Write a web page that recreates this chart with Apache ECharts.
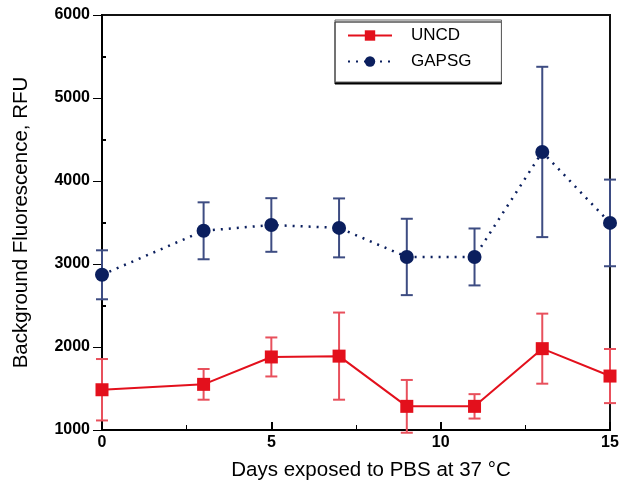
<!DOCTYPE html>
<html>
<head>
<meta charset="utf-8">
<script src="https://cdn.jsdelivr.net/npm/echarts@6/dist/echarts.min.js"></script>
<style>
  html, body { margin: 0; padding: 0; background: #fff; }
  #chart { width: 622px; height: 491px; }
</style>
</head>
<body>
<div id="chart"></div>
<script>
// Days of exposure to PBS at 37 °C
const days = [0, 3, 5, 7, 9, 11, 13, 15];

// Background fluorescence (RFU), mean and standard deviation
const uncdMean = [1485, 1550, 1880, 1890, 1285, 1285, 1980, 1650];
const uncdSd   = [370, 185, 235, 525, 318, 147, 422, 326];
const gapsgMean = [2870, 3400, 3470, 3435, 3085, 3085, 4350, 3495];
const gapsgSd   = [295, 343, 323, 355, 460, 343, 1026, 522];

const xTicks = [0, 5, 10, 15];
const yTicks = [1000, 2000, 3000, 4000, 5000, 6000];

const RED = '#e3101c';
const RED_BAR = '#e8505c';
const NAVY = '#0b1f5e';
const NAVY_BAR = '#3d4c82';
const FONT = 'Liberation Sans, Arial, sans-serif';

function pairs(means) {
  return days.map((d, i) => [d, means[i]]);
}
function errRows(means, sds) {
  return days.map((d, i) => [d, means[i] - sds[i], means[i] + sds[i]]);
}

// Vertical error bar with caps, drawn in data coordinates
function errorBar(color) {
  return function (params, api) {
    const x = api.value(0);
    const lo = api.coord([x, api.value(1)]);
    const hi = api.coord([x, api.value(2)]);
    const cap = 6;
    const style = { stroke: color, lineWidth: 2 };
    return {
      type: 'group',
      children: [
        { type: 'line', shape: { x1: lo[0], y1: lo[1], x2: hi[0], y2: hi[1] }, style },
        { type: 'line', shape: { x1: hi[0] - cap, y1: hi[1], x2: hi[0] + cap, y2: hi[1] }, style },
        { type: 'line', shape: { x1: lo[0] - cap, y1: lo[1], x2: lo[0] + cap, y2: lo[1] }, style }
      ]
    };
  };
}

const chart = echarts.init(document.getElementById('chart'), null, { renderer: 'canvas' });

const labelFont = { fontFamily: FONT, fontWeight: 'bold', fontSize: 16, color: '#000' };

chart.setOption({
  animation: false,
  backgroundColor: '#fff',
  grid: {
    left: 102, right: 12, top: 15, bottom: 61,
    show: true, borderColor: '#111', borderWidth: 2, backgroundColor: 'transparent'
  },
  legend: {
    left: 335, top: 20,
    orient: 'vertical',
    itemGap: 9,
    itemWidth: 44, itemHeight: 13,
    padding: [7, 30, 12, 12],
    backgroundColor: '#fff',
    borderColor: '#666', borderWidth: 1,
    shadowColor: '#000', shadowOffsetX: 0, shadowOffsetY: 2, shadowBlur: 0,
    textStyle: { fontFamily: FONT, fontSize: 17, color: '#000', padding: [0, 0, 0, 14] },
    data: ['UNCD', 'GAPSG']
  },
  xAxis: [{
    type: 'value', min: 0, max: 15, interval: 5,
    name: 'Days exposed to PBS at 37 \u00b0C',
    nameLocation: 'middle', nameGap: 30,
    nameTextStyle: { fontFamily: FONT, fontSize: 20.5, color: '#000', padding: [0, 0, 0, 30] },
    axisLine: { lineStyle: { color: '#000', width: 2 } },
    axisTick: { inside: true, length: 8, lineStyle: { color: '#000', width: 2 } },
    minorTick: { show: true, splitNumber: 2, length: 5, lineStyle: { color: '#000', width: 1 } },
    splitLine: { show: false },
    axisLabel: Object.assign({ margin: 5, formatter: v => xTicks.includes(v) ? String(v) : '' }, labelFont)
  }],
  yAxis: [{
    type: 'value', min: 1000, max: 6000, interval: 1000,
    name: 'Background Fluorescence, RFU',
    nameLocation: 'middle', nameGap: 70, nameRotate: 90,
    nameTextStyle: { fontFamily: FONT, fontSize: 20.5, color: '#000' },
    axisLine: { lineStyle: { color: '#000', width: 2 } },
    axisTick: { inside: false, length: 9, lineStyle: { color: '#000', width: 1 } },
    splitLine: { show: false },
    axisLabel: Object.assign({ margin: 12, formatter: v => yTicks.includes(v) ? String(v) : '' }, labelFont)
  }, {
    // inward minor ticks on the left axis
    type: 'value', min: 1000, max: 6000, interval: 1000, position: 'left',
    axisLine: { show: false },
    axisTick: { show: false, inside: true },
    minorTick: { show: true, splitNumber: 2, length: 4, lineStyle: { color: '#000', width: 2 } },
    axisLabel: { show: false },
    splitLine: { show: false }
  }],
  series: [
    {
      name: 'UNCD err', type: 'custom', renderItem: errorBar(RED_BAR),
      data: errRows(uncdMean, uncdSd), z: 2, silent: true
    },
    {
      name: 'GAPSG err', type: 'custom', renderItem: errorBar(NAVY_BAR),
      data: errRows(gapsgMean, gapsgSd), z: 2, silent: true
    },
    {
      name: 'UNCD', type: 'line', data: pairs(uncdMean),
      symbol: 'rect', symbolSize: 13,
      lineStyle: { color: RED, width: 2 },
      itemStyle: { color: RED },
      z: 3
    },
    {
      name: 'GAPSG', type: 'line', data: pairs(gapsgMean),
      symbol: 'circle', symbolSize: 14,
      lineStyle: { color: NAVY, width: 2.5, type: [2, 6] },
      itemStyle: { color: NAVY },
      z: 3
    }
  ]
});
</script>
</body>
</html>
